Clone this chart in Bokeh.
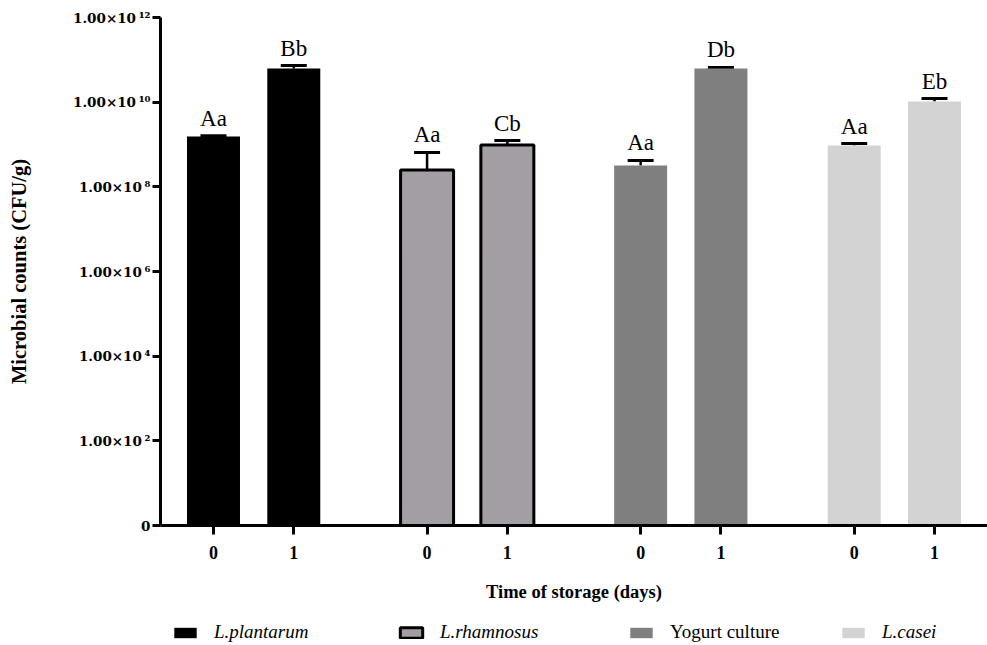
from bokeh.plotting import figure
from bokeh.layouts import column
from bokeh.models import (Range1d, ColumnDataSource, Whisker, TeeHead,
                          LabelSet, FixedTicker, Legend, LegendItem)
from bokeh.embed import file_html
from bokeh.resources import INLINE

# ---------------- data ----------------
groups = ["L.plantarum", "L.rhamnosus", "Yogurt culture", "L.casei"]
days = ["0", "1"]

plantarum_mean = [1.55e9, 6.2e10]
plantarum_sd = [0.07e9, 1.1e10]
plantarum_letters = ["Aa", "Bb"]

rhamnosus_mean = [2.5e8, 9.7e8]
rhamnosus_sd = [4.0e8, 2.7e8]
rhamnosus_letters = ["Aa", "Cb"]

yogurt_mean = [3.2e8, 6.2e10]
yogurt_sd = [1.0e8, 4.0e9]
yogurt_letters = ["Aa", "Db"]

casei_mean = [9.5e8, 1.04e10]
casei_sd = [1.0e8, 1.8e9]
casei_letters = ["Aa", "Eb"]

tick_values = [1, 1e2, 1e4, 1e6, 1e8, 1e10, 1e12]
tick_labels = ["0", "1.00×10\u2009²", "1.00×10\u2009⁴", "1.00×10\u2009⁶", "1.00×10\u2009⁸",
               "1.00×10\u2009¹⁰", "1.00×10\u2009¹²"]

series = [
    (groups[0], plantarum_mean, plantarum_sd, plantarum_letters),
    (groups[1], rhamnosus_mean, rhamnosus_sd, rhamnosus_letters),
    (groups[2], yogurt_mean, yogurt_sd, yogurt_letters),
    (groups[3], casei_mean, casei_sd, casei_letters),
]

# ---------------- styles ----------------
fills = ["#000000", "#a39ea3", "#7f7f7f", "#d3d3d3"]
lines = [None, "#000000", None, None]
line_widths = [0, 3, 0, 0]
legend_x = [11, 237, 467, 679]
legend_styles = ["italic", "italic", "normal", "italic"]
SERIF = "Liberation Serif"
TICK_FONT = "DejaVu Serif"
GROUP_GAP = 0.66
BAR_W = 0.66
PAD = 0.66

step = len(days) + GROUP_GAP
xpos = {(gi, di): gi * step + di for gi in range(len(groups)) for di in range(len(days))}
tick_x = [xpos[(gi, di)] for gi in range(len(groups)) for di in range(len(days))]
tick_x_labels = [days[di] for gi in range(len(groups)) for di in range(len(days))]

p = figure(
    x_range=Range1d(-PAD, tick_x[-1] + PAD),
    y_range=Range1d(1, 1e12), y_axis_type="log",
    width=987, height=610, output_backend="svg", toolbar_location=None,
    min_border_left=160, min_border_right=0, min_border_top=17, min_border_bottom=85,
)
p.outline_line_color = None
p.grid.visible = False
p.background_fill_color = "white"

leg_fig = figure(
    x_range=Range1d(0, 1), y_range=Range1d(0, 1),
    width=987, height=35, output_backend="svg", toolbar_location=None,
    x_axis_location=None, y_axis_location=None,
    min_border_left=0, min_border_right=0, min_border_top=0, min_border_bottom=0,
)
leg_fig.outline_line_color = None
leg_fig.grid.visible = False

for gi, (g, m, sd, letters) in enumerate(series):
    src = ColumnDataSource(dict(
        x=[xpos[(gi, di)] for di in range(len(days))],
        top=m,
        upper=[a + b for a, b in zip(m, sd)],
        letter=letters,
    ))
    p.vbar(x="x", top="top", bottom=1, width=BAR_W, source=src,
           fill_color=fills[gi], line_color=lines[gi], line_width=line_widths[gi])
    w = Whisker(base="x", lower="top", upper="upper", source=src, dimension="height",
                line_color="black", line_width=2.5,
                upper_head=TeeHead(size=26, line_width=3, line_color="black"),
                lower_head=None)
    p.add_layout(w)
    lab = LabelSet(x="x", y="upper", text="letter", source=src, y_offset=10,
                   text_align="center", text_baseline="alphabetic",
                   text_font=SERIF, text_font_size="23px", text_color="black")
    p.add_layout(lab)

    # hidden twin of the bars, used only to draw the legend swatch
    r = leg_fig.vbar(x="x", top="top", bottom=1, width=BAR_W, source=src,
                     fill_color=fills[gi], line_color=lines[gi],
                     line_width=line_widths[gi], visible=False)
    leg = Legend(items=[LegendItem(label=g, renderers=[r])],
                 location=(legend_x[gi], 2), orientation="horizontal",
                 padding=0, margin=0, border_line_color=None,
                 background_fill_alpha=0, glyph_width=28, glyph_height=13,
                 label_standoff=15, label_height=13,
                 label_text_font=SERIF, label_text_font_size="19px",
                 label_text_font_style=legend_styles[gi], label_text_color="black")
    leg_fig.add_layout(leg, "center")

# ---------------- axes ----------------
for ax in (p.xaxis[0], p.yaxis[0]):
    ax.axis_line_width = 3
    ax.axis_line_color = "black"
    ax.major_tick_line_width = 3
    ax.major_tick_line_color = "black"
    ax.major_tick_in = 0
    ax.minor_tick_out = 0
    ax.minor_tick_in = 0
    ax.major_label_text_font = SERIF
    ax.major_label_text_font_style = "bold"
    ax.major_label_text_color = "black"
    ax.axis_label_text_font = SERIF
    ax.axis_label_text_font_style = "bold"
    ax.axis_label_text_color = "black"

p.yaxis.ticker = FixedTicker(ticks=tick_values, minor_ticks=[])
p.yaxis.major_label_overrides = {v: t for v, t in zip(tick_values, tick_labels)}
p.yaxis.major_tick_out = 8
p.yaxis.major_label_standoff = 2
p.yaxis.major_label_text_font = TICK_FONT
p.yaxis.major_label_text_font_size = "13.5px"
p.yaxis.axis_label = "Microbial counts (CFU/g)"
p.yaxis.axis_label_text_font_size = "20.5px"
p.yaxis.axis_label_standoff = 40

p.xaxis.ticker = FixedTicker(ticks=tick_x, minor_ticks=[])
p.xaxis.major_label_overrides = {v: t for v, t in zip(tick_x, tick_x_labels)}
p.xaxis.major_tick_out = 9
p.xaxis.major_label_standoff = 11
p.xaxis.major_label_text_font_size = "18px"
p.xaxis.axis_label = "Time of storage (days)"
p.xaxis.axis_label_text_font_size = "18.5px"
p.xaxis.axis_label_standoff = 20

layout = column(p, leg_fig, spacing=0)
open("out.html", "w").write(file_html(layout, INLINE))
